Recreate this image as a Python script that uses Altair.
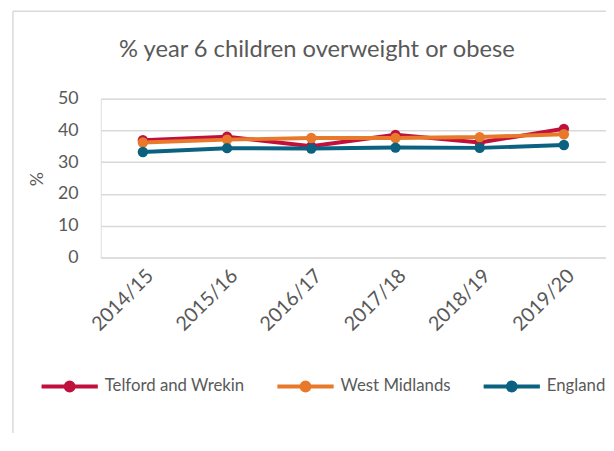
import altair as alt
import pandas as pd

years = ["2014/15", "2015/16", "2016/17", "2017/18", "2018/19", "2019/20"]
series_names = ["Telford and Wrekin", "West Midlands", "England"]
telford = [36.9, 38.0, 35.0, 38.6, 36.2, 40.5]
west_midlands = [36.2, 37.1, 37.6, 37.6, 37.9, 38.8]
england = [33.2, 34.4, 34.3, 34.6, 34.5, 35.4]
colors = ["#C0103C", "#E8792A", "#0B6180"]
y_ticks = [0, 10, 20, 30, 40, 50]

rows = []
for name, vals in zip(series_names, [telford, west_midlands, england]):
    for yr, v in zip(years, vals):
        rows.append({"Year": yr, "Area": name, "Value": v})
df = pd.DataFrame(rows)

FONT = "Lato"
GREY = "#595959"

legend = alt.Legend(
    title=None,
    orient="none",
    direction="horizontal",
    legendX=-45,
    legendY=278,
    padding=0,
    symbolType="M-2.5,0H2.5M-0.35,0a0.35,0.35 0 1,0 0.7,0a0.35,0.35 0 1,0 -0.7,0",
    symbolSize=520,
    symbolStrokeWidth=4,
    symbolOpacity=1,
    labelOffset=22,
    columnPadding=24,
    labelFont=FONT,
    labelFontSize=17,
    labelColor=GREY,
    labelLimit=300,
)

color = alt.Color(
    "Area:N",
    scale=alt.Scale(domain=series_names, range=colors),
    sort=series_names,
    legend=legend,
)

x = alt.X(
    "Year:N",
    sort=years,
    scale=alt.Scale(type="point", padding=0.5),
    axis=alt.Axis(
        title=None,
        labelAngle=315,
        labelFont=FONT,
        labelFontSize=20,
        labelColor=GREY,
        labelPadding=8,
        ticks=False,
        domain=False,
        grid=False,
    ),
)

y = alt.Y(
    "Value:Q",
    scale=alt.Scale(domain=[0, 50], nice=False),
    axis=alt.Axis(
        title="%",
        values=y_ticks,
        labelFont=FONT,
        labelFontSize=18,
        labelColor=GREY,
        labelPadding=23,
        ticks=False,
        domain=False,
        gridColor="#D9D9D9",
        gridWidth=1.5,
        titleFont=FONT,
        titleFontSize=18,
        titleFontWeight="normal",
        titleColor=GREY,
        titleAngle=270,
        titleX=-64,
        titleY=81,
        titleAlign="center",
        titleBaseline="middle",
    ),
)

lines = alt.Chart(df).mark_line(strokeWidth=4).encode(x=x, y=y, color=color)
points = alt.Chart(df).mark_point(filled=True, size=110, opacity=1).encode(x=x, y=y, color=color)

border_df = pd.DataFrame({"a": [0]})
left_border = alt.Chart(border_df).mark_rule(color="#D9D9D9", strokeWidth=1.5).encode(
    x=alt.value(-89), y=alt.value(-88.5), y2=alt.value(340)
)
top_border = alt.Chart(border_df).mark_rule(color="#D9D9D9", strokeWidth=1.5).encode(
    x=alt.value(-89), x2=alt.value(512), y=alt.value(-88.5)
)

chart = alt.layer(left_border, top_border, lines, points).properties(
    width=512,
    height=161,
    autosize=alt.AutoSizeParams(type="none"),
    padding={"left": 94, "top": 89, "right": 0, "bottom": 175},
    title=alt.TitleParams(
        text="% year 6 children overweight or obese",
        font=FONT,
        fontSize=24,
        fontWeight="normal",
        color=GREY,
        anchor="middle",
        frame="group",
        dx=-37,
        offset=-52,
    ),
).configure_view(stroke=None).configure(background="white")

chart.save("out.html", embed_options={"renderer": "svg", "actions": False})
